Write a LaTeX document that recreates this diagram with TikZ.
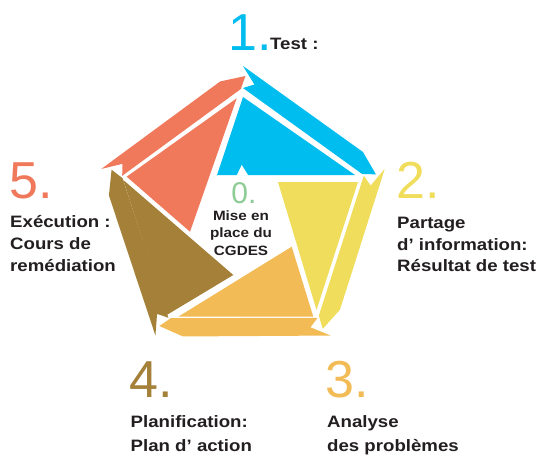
\documentclass[tikz,border=0pt]{standalone}
\usepackage{fontspec}
\setmainfont{Liberation Sans}
\newfontfamily\lblfont{Liberation Sans}[FakeStretch=1.13]
\definecolor{cblue}{RGB}{0,189,239}
\definecolor{cyellow}{RGB}{240,221,92}
\definecolor{corange}{RGB}{242,187,86}
\definecolor{cbrown}{RGB}{164,128,56}
\definecolor{cred}{RGB}{240,120,91}
\definecolor{cgreen}{RGB}{142,204,150}
\definecolor{txt}{RGB}{35,31,32}
\begin{document}
\begin{tikzpicture}[x=1pt,y=-1pt,
  bignum/.style={anchor=base west,inner sep=0pt,font=\fontsize{52}{52}\selectfont},
  lbl/.style={anchor=base west,align=left,inner sep=0pt,text=txt,font=\lblfont\bfseries\fontsize{16.5}{21.7}\selectfont},
  lblwide/.style={lbl,font=\lblfont\bfseries\fontsize{16.5}{23.7}\selectfont}]
\useasboundingbox (0,0) rectangle (537,455);
\fill[white] (0,0) rectangle (537,455);
% outer arrow bands
\begin{scope}[shift={(243,215)}]
\foreach \k/\c in {0/cblue,1/cyellow,2/corange,3/cbrown,4/cred}{
  \fill[\c] ({72*\k-90}:149) -- ({72*\k-27.7}:135.5) -- ({72*\k-17}:139)
     -- ({72*\k-19}:126) -- ({72*\k-90}:127) -- ({72*\k-85}:131) -- cycle;
}
\end{scope}
% inner triangles
\fill[cblue] (243,97) -- (355,175) -- (217,175) -- cycle;
\fill[white] (236.7,175.5) -- (241.7,165) -- (248.3,175.5) -- cycle;
\fill[cyellow] (278,182) -- (358,182) -- (316.5,310) -- cycle;
\fill[corange] (291.7,246.7) -- (313.3,316.7) -- (178.3,316.7) -- cycle;
\fill[cbrown] (123.3,180) -- (233.3,275) -- (166.7,315) -- cycle;
\fill[cred] (236.7,98.3) -- (190,231.7) -- (126.7,176.7) -- cycle;
% numbers
\node[bignum,text=cblue] (n1) at (228,50) {1.};
\node[bignum,text=cyellow] (n2) at (396,198) {2.};
\node[bignum,text=corange] (n3) at (325,397) {3.};
\node[bignum,text=cbrown] (n4) at (129.5,397) {4.};
\node[bignum,text=cred] (n5) at (9.5,198) {5.};
\node[anchor=base,inner sep=0pt,text=cgreen,font=\fontsize{30}{30}\selectfont] (n0) at (244,203.3) {0.};
% labels (base anchor = baseline of last line)
\node[lbl] (t1) at (270,49.5) {Test :};
\node[lbl] (t2) at (397,271.7) {Partage\\d’ information:\\Résultat de test};
\node[lblwide] (t3) at (327,451) {Analyse\\des problèmes};
\node[lblwide] (t4) at (130.5,451) {Planification:\\Plan d’ action};
\node[lbl] (t5) at (10,271.1) {Exécution :\\Cours de\\remédiation};
\node[anchor=base,align=center,inner sep=0pt,text=txt,font=\lblfont\bfseries\fontsize{13.5}{17.5}\selectfont] (t0) at (241,255) {Mise en\\place du\\CGDES};
\end{tikzpicture}
\end{document}
